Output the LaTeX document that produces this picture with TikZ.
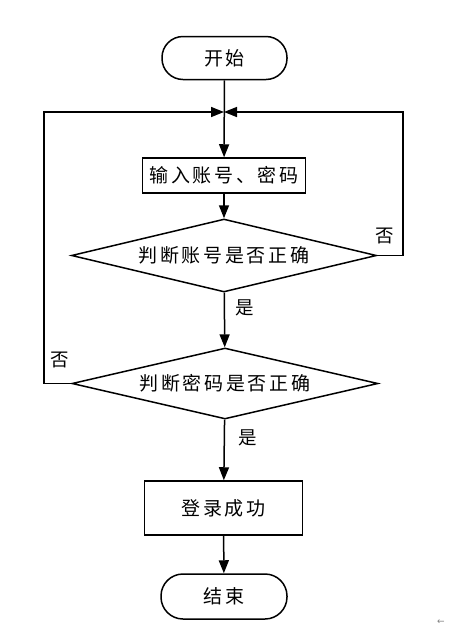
\documentclass[tikz,border=0pt]{standalone}
\usepackage{fontspec}
\newfontfamily\cjk[LetterSpace=14]{Noto Sans CJK SC}
\newfontfamily\cjklabel{Noto Sans CJK SC}
\newfontfamily\symf{DejaVu Sans}
\usetikzlibrary{shapes.geometric,arrows.meta}
\begin{document}
\begin{tikzpicture}[x=1pt,y=-1pt,
  every node/.style={inner sep=0pt},
  base/.style={draw=black,line width=1.5pt,font=\cjk\fontsize{19}{22}\selectfont},
  term/.style={base,rectangle,rounded corners=21pt},
  proc/.style={base,rectangle},
  dec/.style={base,diamond},
  lbl/.style={font=\cjklabel\fontsize{18.5}{22}\selectfont},
  flow/.style={line width=1.5pt,-{Triangle[length=13pt,width=10pt]}},
  line/.style={line width=1.5pt}]
\useasboundingbox (0,0) rectangle (450,630);
\node[term,minimum width=125pt,minimum height=43pt] (start) at (224.5,58) {开始};
\coordinate (J) at (224,112);
\coordinate (L) at (44,112);
\coordinate (R) at (403,112);
\node[proc,minimum width=163pt,minimum height=35pt] (input) at (224,175.5) {输入账号、密码};
\node[dec,minimum width=305pt,minimum height=73pt,aspect=4.18] (d1) at (224,255.5) {判断账号是否正确};
\node[dec,minimum width=306pt,minimum height=71pt,aspect=4.3] (d2) at (225,383.5) {判断密码是否正确};
\node[proc,minimum width=158pt,minimum height=54pt] (ok) at (223.5,508) {登录成功};
\node[term,minimum width=126pt,minimum height=45pt,rounded corners=22pt] (end) at (224,596.5) {结束};
\draw[flow] (start) -- (input);
\draw[flow] (input) -- (d1);
\draw[flow] (d1) -- (d2);
\draw[flow] (d2) -- (ok);
\draw[flow] (ok) -- (end);
\draw[flow] (d1.east) -| (R) -- (J);
\draw[flow] (d2.west) -| (L) -- (J);
\node[lbl] (n1) at (385,236) {否};
\node[lbl] (y1) at (245,308) {是};
\node[lbl] (n2) at (60,360) {否};
\node[lbl] (y2) at (248,438) {是};
\node[font=\symf\fontsize{9}{10}\selectfont,text=gray] (mark) at (441,622) {←};
\end{tikzpicture}
\end{document}
